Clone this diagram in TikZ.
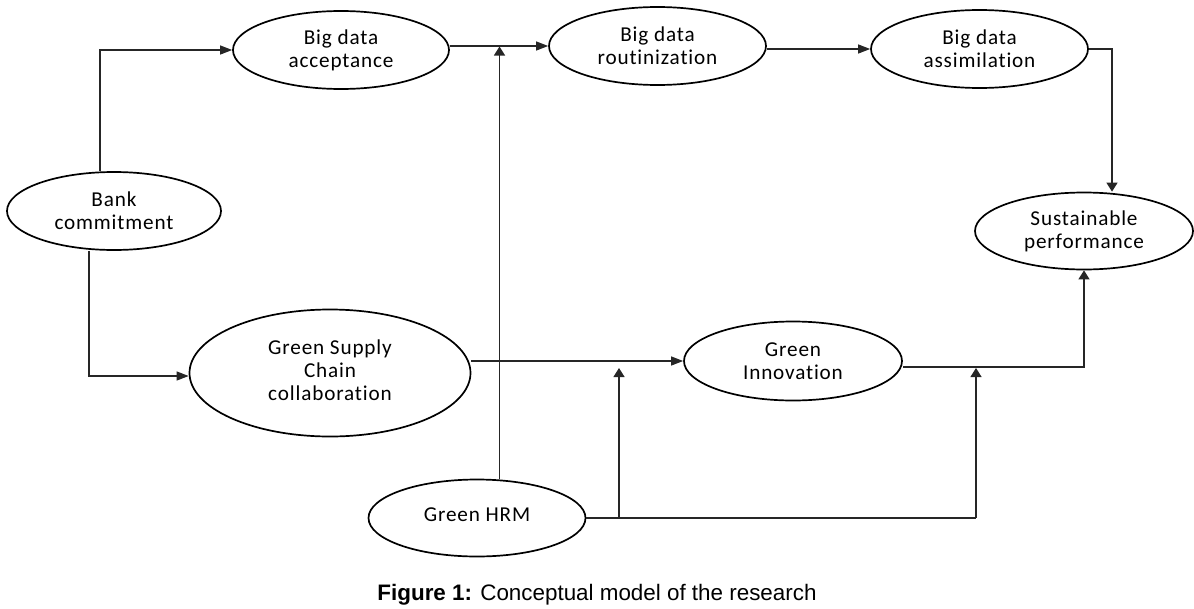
\documentclass[tikz,border=0pt]{standalone}
\usepackage{fontspec}
\setmainfont{Carlito}[LetterSpace=4,Ligatures={NoCommon}]
\newfontfamily\capfont{Liberation Sans}
\usetikzlibrary{arrows.meta,shapes.geometric}
\begin{document}
\begin{tikzpicture}[x=1pt,y=-1pt,
  ell/.style={ellipse, draw, line width=1.7pt, inner sep=0pt, align=center,
              font=\fontsize{21.2}{23}\selectfont},
  conn/.style={line width=1.2pt, draw=black!85},
  arrh/.style={conn, -{Triangle[length=12pt,width=9pt]}},
  arrv/.style={conn, -{Triangle[length=9pt,width=11pt]}}]
\useasboundingbox (0,0) rectangle (1194,608);

\node (acc)  [ell, minimum width=216pt, minimum height=78pt] at (341,50) {Big data\\acceptance};
\node (rout) [ell, minimum width=217pt, minimum height=78pt] at (657.5,46) {Big data\\routinization};
\node (assim)[ell, minimum width=217pt, minimum height=78pt] at (979.5,49) {Big data\\assimilation};
\node (bank) [ell, minimum width=214pt, minimum height=78pt] at (114,211) {Bank\\commitment};
\node (sust) [ell, minimum width=218pt, minimum height=77pt] at (1084,231) {Sustainable\\performance};
\node (gsc)  [ell, minimum width=281pt, minimum height=127pt] at (330,373) {\raisebox{4pt}{\begin{tabular}{@{}c@{}}Green Supply\\Chain\\collaboration\end{tabular}}};
\node (gi)   [ell, minimum width=218pt, minimum height=79pt] at (793,361) {Green\\Innovation};
\node (hrm)  [ell, minimum width=217pt, minimum height=77pt] at (477,518) {\raisebox{6pt}{Green HRM}};

\node (cap) [anchor=base, font=\capfont\fontsize{22.4}{26}\selectfont] at (597,600)
  {\textbf{Figure 1:} Conceptual model of the research};

\coordinate (j1) at (499.5,46.5);
\coordinate (t1) at (619,368);
\coordinate (t2) at (976,368);

\draw[arrh] ([xshift=-14pt]bank.north) |- (acc.west);
\draw[arrh] ([xshift=-25pt]bank.south) |- ([yshift=-3pt]gsc.west);
\draw[arrh] (acc.east |- rout.west) -- (rout.west);
\draw[arrv] ([xshift=22.5pt]hrm.north) -- (j1);
\draw[arrh] (rout.east |- assim.west) -- (assim.west);
\draw[arrv] (assim.east) -| ([xshift=28pt]sust.north);
\draw[arrh] (gsc.east |- gi.west) -- (gi.west);
\draw[arrv] ([yshift=-6pt]gi.east) -| (sust.south);
\draw[conn] (hrm.east) -- (hrm.east -| t2);
\draw[arrv] (hrm.east -| t1) -- (t1);
\draw[arrv] (hrm.east -| t2) -- (t2);
\end{tikzpicture}
\end{document}
